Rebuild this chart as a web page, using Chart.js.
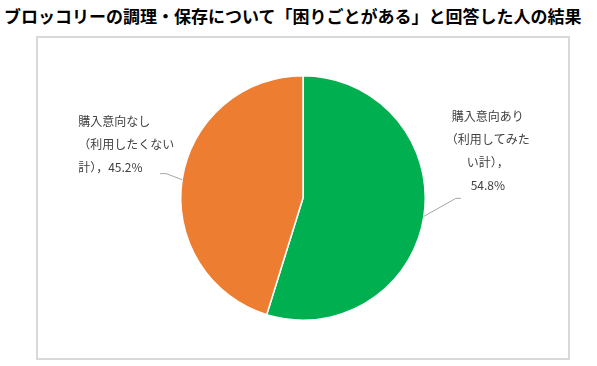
<!DOCTYPE html>
<html lang="ja">
<head>
    <meta charset="UTF-8">
    <title>ブロッコリー 困りごと</title>
    <script src="https://cdn.jsdelivr.net/npm/chart.js"></script>
    <style>
        body {
            margin: 0;
            width: 597px;
            height: 366px;
            background: #fff;
            font-family: "Noto Sans CJK JP", sans-serif;
            position: relative;
            overflow: hidden;
        }
        h1 {
            position: absolute;
            left: 4px;
            top: 3px;
            margin: 0;
            font-size: 17px;
            font-weight: bold;
            color: #000;
            white-space: nowrap;
            letter-spacing: 0px;
        }
        .chart-box {
            position: absolute;
            left: 36px;
            top: 36px;
            width: 530px;
            height: 320px;
            border: 2px solid #d9d9d9;
        }
    </style>
</head>
<body>
    <h1>ブロッコリーの調理・保存について「困りごとがある」と回答した人の結果</h1>
    <div class="chart-box">
        <canvas id="pieChart" width="530" height="320"></canvas>
    </div>
    <script>
        // data
        const categories = ['購入意向あり（利用してみたい計）', '購入意向なし（利用したくない計）'];
        const values = [54.8, 45.2];
        const labelLines = [
            ['購入意向あり', '（利用してみた', 'い計），', '54.8%'],
            ['購入意向なし', '（利用したくない', '計），45.2%']
        ];
        const colors = ['#00b050', '#ed7d31'];

        // where each label sits relative to the leader elbow
        const labelStyle = [
            { elbow: [32, -18], tail: 5, align: 'center', dx: 32, dy: -82 },
            { elbow: [-16, -6], tail: -6, align: 'left', dx: -88, dy: -52 }
        ];

        const pieLabels = {
            id: 'pieLabels',
            afterDatasetsDraw(chart) {
                const ctx = chart.ctx;
                const arcs = chart.getDatasetMeta(0).data;
                ctx.save();
                ctx.font = '12px "Noto Sans CJK JP", sans-serif';
                ctx.fillStyle = '#404040';
                ctx.textBaseline = 'middle';
                arcs.forEach((arc, i) => {
                    const st = labelStyle[i];
                    const mid = (arc.startAngle + arc.endAngle) / 2;
                    const ex = arc.x + Math.cos(mid) * arc.outerRadius;
                    const ey = arc.y + Math.sin(mid) * arc.outerRadius;
                    const bx = ex + st.elbow[0];
                    const by = ey + st.elbow[1];
                    ctx.strokeStyle = '#a6a6a6';
                    ctx.lineWidth = 1;
                    ctx.beginPath();
                    ctx.moveTo(ex, ey);
                    ctx.lineTo(bx, by);
                    ctx.lineTo(bx + st.tail, by);
                    ctx.stroke();
                    ctx.textAlign = st.align;
                    labelLines[i].forEach((line, k) => {
                        ctx.fillText(line, bx + st.dx, by + st.dy + k * 23);
                    });
                });
                ctx.restore();
            }
        };

        new Chart(document.getElementById('pieChart'), {
            type: 'pie',
            data: {
                labels: categories,
                datasets: [{
                    data: values,
                    backgroundColor: colors,
                    borderColor: '#ffffff',
                    borderWidth: 1.5
                }]
            },
            options: {
                responsive: false,
                animation: false,
                layout: { padding: { top: 37, bottom: 37 } },
                plugins: {
                    legend: { display: false },
                    tooltip: { enabled: false }
                }
            },
            plugins: [pieLabels]
        });
    </script>
</body>
</html>
